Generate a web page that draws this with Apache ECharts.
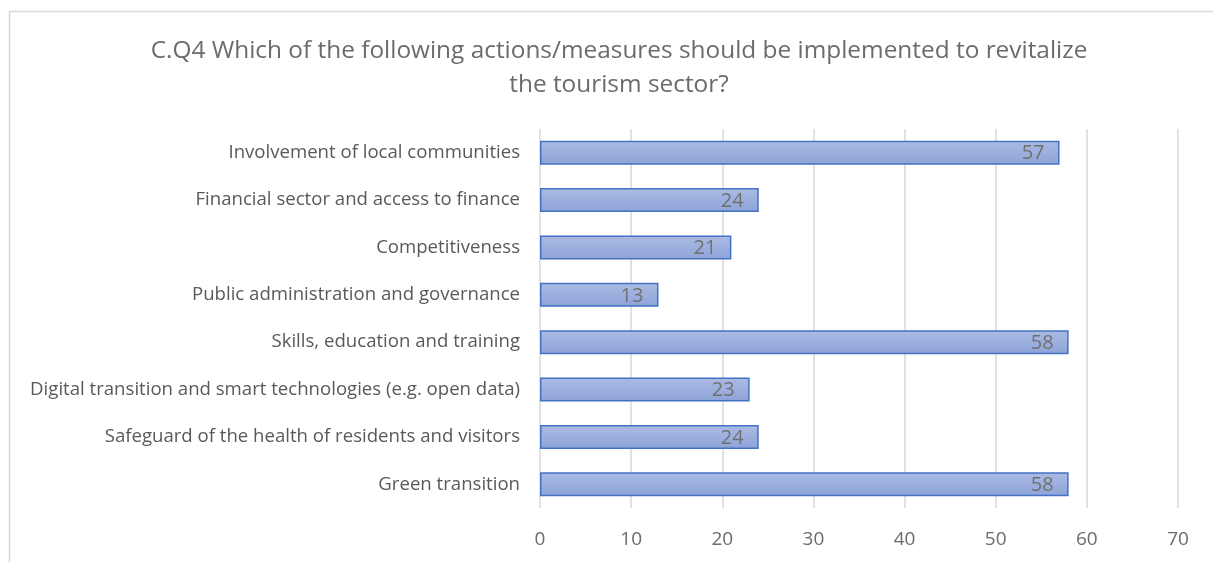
<!DOCTYPE html>
<html>
<head>
<meta charset="utf-8">
<script src="https://cdn.jsdelivr.net/npm/echarts@6/dist/echarts.min.js"></script>
<style>
html,body{margin:0;padding:0;background:#fff;}
#chart{width:1213px;height:562px;}
</style>
</head>
<body>
<div id="chart"></div>
<script>
// Survey answers, listed top to bottom
const categories = [
  'Involvement of local communities',
  'Financial sector and access to finance',
  'Competitiveness',
  'Public administration and governance',
  'Skills, education and training',
  'Digital transition and smart technologies (e.g. open data)',
  'Safeguard of the health of residents and visitors',
  'Green transition'
];
const responses = [57, 24, 21, 13, 58, 23, 24, 58];
const xTicks = [0, 10, 20, 30, 40, 50, 60, 70];

const titleText = 'C.Q4 Which of the following actions/measures should be implemented to revitalize\nthe tourism sector?';
const fontFamily = '"Open Sans", "Noto Sans", sans-serif';
const grey = '#595959';

const chart = echarts.init(document.getElementById('chart'));
chart.setOption({
  animation: false,
  backgroundColor: '#fff',
  graphic: [{
    type: 'rect',
    shape: { x: 9.5, y: 11.5, width: 1220, height: 600 },
    style: { fill: 'none', stroke: '#d9d9d9', lineWidth: 1.5 },
    silent: true
  }],
  title: {
    text: titleText,
    left: 614,
    top: 29,
    textAlign: 'center',
    textStyle: {
      fontFamily: fontFamily,
      fontSize: 24.4,
      fontWeight: 'normal',
      color: '#6b6b6b',
      lineHeight: 34
    }
  },
  grid: { left: 540, right: 35, top: 129, bottom: 54, containLabel: false },
  xAxis: {
    type: 'value',
    min: xTicks[0],
    max: xTicks[xTicks.length - 1],
    interval: 10,
    axisLine: { show: false },
    axisTick: { show: false },
    splitLine: { lineStyle: { color: '#d9d9d9', width: 1.5 } },
    axisLabel: {
      color: '#6b6b6b',
      fontFamily: fontFamily,
      fontSize: 19,
      margin: 22
    }
  },
  yAxis: {
    type: 'category',
    data: categories,
    inverse: true,
    axisLine: { show: false },
    axisTick: { show: false },
    axisLabel: {
      color: grey,
      fontFamily: fontFamily,
      fontSize: 18.6,
      margin: 20
    }
  },
  series: [{
    type: 'bar',
    data: responses,
    barWidth: 24,
    itemStyle: {
      color: new echarts.graphic.LinearGradient(0, 0, 0, 1, [
        { offset: 0, color: '#abbbe3' },
        { offset: 1, color: '#8da3d9' }
      ]),
      borderColor: '#4472c4',
      borderWidth: 1.5
    },
    label: {
      show: true,
      position: 'insideRight',
      distance: 15,
      offset: [0, 1],
      color: '#707070',
      fontFamily: fontFamily,
      fontSize: 20
    }
  }]
});
</script>
</body>
</html>
